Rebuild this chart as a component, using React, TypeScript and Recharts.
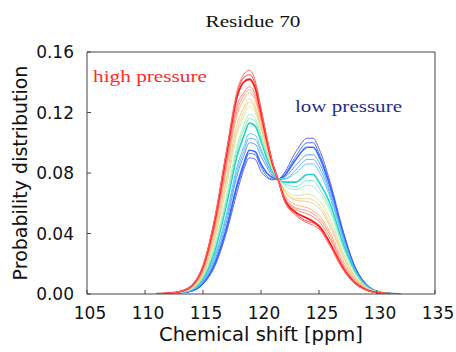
import { LineChart, Line, XAxis, YAxis, Customized } from 'recharts'

// chemical shift grid (ppm)
const shifts = [111, 112, 113, 114, 115, 116, 117, 118, 118.5, 119, 119.5, 120, 120.5, 121, 121.5, 122, 123, 124, 124.5, 125, 126, 127, 128, 129, 130, 131, 132]

// curves from high pressure (p01) to low pressure (p18)
const p01 = [0.0002, 0.0006, 0.0017, 0.0055, 0.019, 0.05, 0.094, 0.136, 0.145, 0.148, 0.141, 0.123, 0.104, 0.087, 0.075, 0.062, 0.052, 0.047, 0.0455, 0.043, 0.031, 0.017, 0.0075, 0.0027, 0.0008, 0.0002, 0]
const p02 = [0.0002, 0.0006, 0.0017, 0.0054, 0.0185, 0.049, 0.093, 0.134, 0.143, 0.145, 0.139, 0.122, 0.103, 0.087, 0.075, 0.062, 0.053, 0.048, 0.047, 0.044, 0.032, 0.0175, 0.0078, 0.0028, 0.0008, 0.0002, 0]
const p03 = [0.0002, 0.0006, 0.0016, 0.0052, 0.018, 0.048, 0.091, 0.132, 0.14, 0.142, 0.136, 0.12, 0.102, 0.086, 0.075, 0.063, 0.054, 0.05, 0.048, 0.045, 0.033, 0.018, 0.008, 0.003, 0.0009, 0.0002, 0]
const p04 = [0.0002, 0.0005, 0.0015, 0.0048, 0.017, 0.045, 0.086, 0.126, 0.133, 0.137, 0.132, 0.117, 0.1, 0.085, 0.075, 0.064, 0.056, 0.053, 0.051, 0.048, 0.036, 0.02, 0.009, 0.0033, 0.001, 0.0002, 0]
const p05 = [0.0002, 0.0005, 0.0015, 0.0046, 0.016, 0.044, 0.084, 0.123, 0.131, 0.135, 0.13, 0.116, 0.099, 0.085, 0.075, 0.065, 0.057, 0.055, 0.053, 0.05, 0.038, 0.021, 0.01, 0.0035, 0.001, 0.0002, 0]
const p06 = [0.0001, 0.0005, 0.0014, 0.0044, 0.015, 0.042, 0.081, 0.12, 0.128, 0.133, 0.128, 0.114, 0.098, 0.085, 0.075, 0.066, 0.059, 0.057, 0.055, 0.052, 0.04, 0.023, 0.011, 0.0038, 0.0011, 0.0003, 0]
const p07 = [0.0001, 0.0005, 0.0013, 0.004, 0.014, 0.039, 0.076, 0.114, 0.123, 0.129, 0.124, 0.111, 0.097, 0.084, 0.076, 0.068, 0.062, 0.061, 0.06, 0.057, 0.044, 0.026, 0.012, 0.0042, 0.0012, 0.0003, 0]
const p08 = [0.0001, 0.0005, 0.0013, 0.0038, 0.0135, 0.037, 0.073, 0.11, 0.12, 0.127, 0.122, 0.11, 0.096, 0.084, 0.076, 0.069, 0.063, 0.063, 0.062, 0.059, 0.046, 0.027, 0.0125, 0.0044, 0.0012, 0.0003, 0]
const p09 = [0.0001, 0.0004, 0.0012, 0.0036, 0.013, 0.035, 0.07, 0.107, 0.117, 0.124, 0.12, 0.108, 0.095, 0.083, 0.076, 0.07, 0.065, 0.066, 0.065, 0.062, 0.049, 0.029, 0.013, 0.0047, 0.0013, 0.0003, 0]
const p10 = [0.0001, 0.0004, 0.0011, 0.0032, 0.012, 0.032, 0.064, 0.1, 0.111, 0.119, 0.116, 0.105, 0.093, 0.082, 0.076, 0.072, 0.069, 0.072, 0.071, 0.067, 0.054, 0.032, 0.015, 0.0052, 0.0014, 0.0003, 0]
const p11 = [0.0001, 0.0004, 0.0011, 0.003, 0.011, 0.03, 0.061, 0.097, 0.108, 0.116, 0.114, 0.103, 0.092, 0.082, 0.076, 0.073, 0.071, 0.075, 0.075, 0.07, 0.056, 0.033, 0.0155, 0.0055, 0.0015, 0.0003, 0]
const p12 = [0.0001, 0.0004, 0.001, 0.0029, 0.01, 0.028, 0.058, 0.093, 0.104, 0.113, 0.111, 0.101, 0.09, 0.081, 0.076, 0.074, 0.074, 0.079, 0.079, 0.074, 0.059, 0.035, 0.016, 0.0057, 0.0015, 0.0003, 0.0001]
const p13 = [0.0001, 0.0003, 0.0009, 0.0026, 0.009, 0.025, 0.052, 0.086, 0.097, 0.106, 0.105, 0.096, 0.087, 0.08, 0.076, 0.076, 0.08, 0.086, 0.086, 0.081, 0.063, 0.038, 0.017, 0.006, 0.0016, 0.0004, 0.0001]
const p14 = [0.0001, 0.0003, 0.0009, 0.0025, 0.0085, 0.024, 0.05, 0.083, 0.094, 0.103, 0.102, 0.094, 0.086, 0.079, 0.076, 0.076, 0.082, 0.089, 0.089, 0.084, 0.065, 0.039, 0.0175, 0.0062, 0.0016, 0.0004, 0.0001]
const p15 = [0.0001, 0.0003, 0.0009, 0.0023, 0.008, 0.022, 0.047, 0.08, 0.091, 0.1, 0.099, 0.091, 0.084, 0.078, 0.076, 0.077, 0.085, 0.092, 0.092, 0.087, 0.067, 0.04, 0.018, 0.0064, 0.0017, 0.0004, 0.0001]
const p16 = [0.0001, 0.0003, 0.0008, 0.002, 0.007, 0.02, 0.043, 0.074, 0.086, 0.095, 0.094, 0.086, 0.08, 0.077, 0.076, 0.078, 0.089, 0.097, 0.097, 0.091, 0.07, 0.042, 0.019, 0.0067, 0.0017, 0.0004, 0.0001]
const p17 = [0.0001, 0.0003, 0.0008, 0.0019, 0.0068, 0.019, 0.042, 0.072, 0.084, 0.093, 0.092, 0.084, 0.078, 0.076, 0.076, 0.079, 0.091, 0.1, 0.1, 0.093, 0.071, 0.043, 0.0195, 0.0068, 0.0017, 0.0004, 0.0001]
const p18 = [0.0001, 0.0003, 0.0008, 0.0018, 0.0065, 0.018, 0.04, 0.069, 0.082, 0.09, 0.089, 0.081, 0.077, 0.0755, 0.076, 0.08, 0.094, 0.103, 0.103, 0.096, 0.073, 0.044, 0.02, 0.007, 0.0018, 0.0004, 0.0001]

const curves = [p01, p02, p03, p04, p05, p06, p07, p08, p09, p10, p11, p12, p13, p14, p15, p16, p17, p18]

const xTicks = [105, 110, 115, 120, 125, 130, 135]
const yTicks = [0, 0.04, 0.08, 0.12, 0.16]

const lineColors = [
  '#ff6a6a', '#ff4040', '#ff1a1a', '#ff8070', '#ff9a78', '#ffb080',
  '#f8c88c', '#ecd898', '#d4eaa4', '#a8f0bc', '#7ceac8', '#22d2c6',
  '#60c8ee', '#6ab0f6', '#5a9cff', '#2f6cff', '#4a70f0', '#6a62e8',
]
const lineWidths = [1, 1, 1.8, 1, 1, 1, 1, 1, 1, 1, 1, 1.6, 1, 1, 1, 1.6, 1, 1]

const data = shifts.map((x, i) => {
  const row: Record<string, number> = { x }
  curves.forEach((c, k) => {
    row['c' + k] = c[i]
  })
  return row
})

const sans = 'DejaVu Sans'
const serif = 'Liberation Serif'
const axisColor = '#444'

function Annotations() {
  return (
    <g>
      <text x={253} y={27} textAnchor="middle" fontFamily={serif} fontSize={17.5} fill="#111" textLength={95} lengthAdjust="spacingAndGlyphs">
        Residue 70
      </text>
      <text x={93} y={82} fontFamily={serif} fontSize={17} fill="#ff2b2b" textLength={114} lengthAdjust="spacingAndGlyphs">
        high pressure
      </text>
      <text x={295} y={112} fontFamily={serif} fontSize={17} fill="#1f2f88" textLength={107} lengthAdjust="spacingAndGlyphs">
        low pressure
      </text>
    </g>
  )
}

export default function App() {
  // draw low pressure first so the red curves sit on top
  const order = curves.map((_, k) => curves.length - 1 - k)
  return (
    <div style={{ position: 'absolute', left: 0, top: 0, background: '#fff' }}>
      <LineChart width={456} height={352} data={data} margin={{ top: 51, right: 20, bottom: 28, left: 27 }}>
        <XAxis
          type="number"
          dataKey="x"
          domain={[105, 135]}
          ticks={xTicks}
          height={30}
          tickSize={-4}
          tickMargin={17}
          stroke={axisColor}
          tick={{ fontFamily: sans, fontSize: 17, fill: '#111', dx: 3 }}
          allowDataOverflow
          label={{ value: 'Chemical shift [ppm]', position: 'bottom', offset: 3, style: { fontFamily: sans, fontSize: 19.5, fill: '#111' } }}
        />
        <XAxis xAxisId="top" orientation="top" type="number" dataKey="x" domain={[105, 135]} ticks={xTicks} height={1} tickSize={-4} tick={false} stroke={axisColor} />
        <YAxis
          domain={[0, 0.16]}
          ticks={yTicks}
          width={60}
          tickSize={-4}
          tickMargin={17}
          stroke={axisColor}
          tickFormatter={(v: number) => v.toFixed(2)}
          tick={{ fontFamily: sans, fontSize: 17, fill: '#111' }}
          allowDataOverflow
          label={{ value: 'Probability distribution', angle: -90, position: 'insideLeft', offset: -7, style: { textAnchor: 'middle', fontFamily: sans, fontSize: 19, fill: '#111' } }}
        />
        <YAxis yAxisId="right" orientation="right" domain={[0, 0.16]} ticks={yTicks} width={1} tickSize={-4} tick={false} stroke={axisColor} />
        {order.map((k) => (
          <Line
            key={k}
            type="monotone"
            dataKey={'c' + k}
            stroke={lineColors[k]}
            strokeWidth={lineWidths[k]}
            dot={false}
            activeDot={false}
            isAnimationActive={false}
          />
        ))}
        <Customized component={Annotations} />
      </LineChart>
    </div>
  )
}
